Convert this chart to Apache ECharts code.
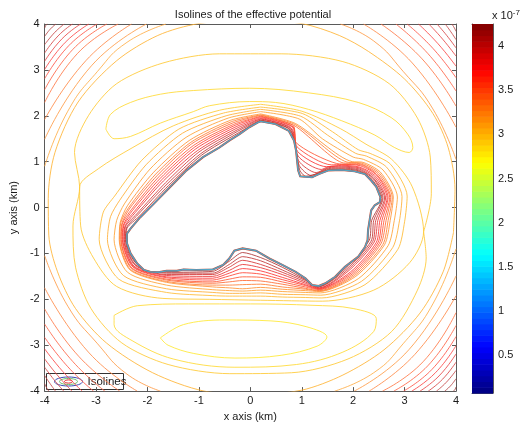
<!DOCTYPE html>
<html><head><meta charset="utf-8">
<script src="https://cdn.jsdelivr.net/npm/echarts@6/dist/echarts.min.js"></script>
<style>html,body{margin:0;padding:0;background:#fff}#c{width:520px;height:427px}</style>
</head><body><div id="c"></div>
<script>
// ---- axes / colorbar ----
const xTicks = [-4,-3,-2,-1,0,1,2,3,4];
const yTicks = [-4,-3,-2,-1,0,1,2,3,4];
const colorbarTicks = [0.5,1,1.5,2,2.5,3,3.5,4];
const cbMin = 0.07, cbMax = 4.25;

// ---- asteroid outline (km) ----
const asteroid = [[0.20,1.88],[0.49,1.82],[0.75,1.67],[0.85,1.46],[0.89,1.24],[0.91,1.02],[0.93,0.81],[0.97,0.68],[1.20,0.66],[1.33,0.73],[1.52,0.81],[1.78,0.82],[2.03,0.79],[2.23,0.73],[2.35,0.59],[2.45,0.45],[2.53,0.23],[2.52,0.12],[2.42,0.05],[2.35,-0.06],[2.32,-0.28],[2.29,-0.49],[2.28,-0.71],[2.23,-0.86],[2.10,-1.07],[1.84,-1.29],[1.65,-1.51],[1.46,-1.65],[1.33,-1.71],[1.20,-1.69],[1.07,-1.54],[0.88,-1.40],[0.62,-1.25],[0.37,-1.11],[0.11,-0.94],[-0.15,-0.89],[-0.31,-0.94],[-0.41,-1.11],[-0.53,-1.25],[-0.73,-1.35],[-1.05,-1.36],[-1.30,-1.35],[-1.43,-1.38],[-1.63,-1.38],[-1.79,-1.41],[-1.95,-1.40],[-2.07,-1.36],[-2.20,-1.22],[-2.33,-1.00],[-2.40,-0.78],[-2.40,-0.57],[-2.33,-0.46],[-2.14,-0.21],[-1.88,0.08],[-1.56,0.45],[-1.24,0.81],[-0.92,1.10],[-0.60,1.31],[-0.41,1.46],[-0.21,1.60],[-0.02,1.75],[0.14,1.85],[0.20,1.88]];

// ---- dense isolines hugging the body (inner -> outer) ----
const ringLevels = [4.15,4.05,3.95,3.85,3.75,3.65,3.55,3.45,3.35,3.25];
const rings = [
 [[0.2,1.90],[0.77,1.69],[0.96,0.82],[1.08,0.68],[1.33,0.75],[1.52,0.83],[1.78,0.84],[2.11,0.80],[2.37,0.61],[2.56,0.20],[2.36,-0.28],[2.31,-0.72],[1.86,-1.31],[1.33,-1.72],[1.07,-1.57],[0.62,-1.30],[0.20,-1.09],[-0.15,-0.98],[-0.41,-1.17],[-0.73,-1.39],[-1.63,-1.41],[-2.21,-1.23],[-2.42,-0.70],[-2.40,-0.45],[-2.16,-0.19],[-1.59,0.48],[-0.95,1.14],[-0.23,1.63],[0.2,1.90]],
 [[0.2,1.91],[0.78,1.70],[0.95,0.92],[1.18,0.70],[1.52,0.85],[1.78,0.86],[2.11,0.82],[2.39,0.63],[2.58,0.21],[2.40,-0.28],[2.35,-0.73],[1.88,-1.33],[1.33,-1.73],[1.07,-1.59],[0.62,-1.36],[0.20,-1.16],[-0.15,-1.07],[-0.41,-1.24],[-0.73,-1.43],[-1.63,-1.43],[-2.23,-1.25],[-2.43,-0.70],[-2.41,-0.44],[-2.19,-0.16],[-1.62,0.51],[-0.97,1.17],[-0.25,1.66],[0.2,1.91]],
 [[0.2,1.93],[0.79,1.72],[0.94,1.02],[1.28,0.76],[1.52,0.87],[1.78,0.88],[2.12,0.84],[2.40,0.64],[2.61,0.21],[2.44,-0.28],[2.38,-0.74],[1.90,-1.35],[1.34,-1.75],[1.07,-1.62],[0.62,-1.41],[0.20,-1.24],[-0.15,-1.15],[-0.41,-1.30],[-0.73,-1.46],[-1.63,-1.46],[-2.24,-1.26],[-2.45,-0.70],[-2.43,-0.42],[-2.21,-0.14],[-1.65,0.54],[-1.00,1.21],[-0.26,1.69],[0.2,1.93]],
 [[0.2,1.94],[0.80,1.73],[0.93,1.12],[1.38,0.83],[1.52,0.89],[1.78,0.90],[2.13,0.86],[2.42,0.66],[2.63,0.21],[2.48,-0.28],[2.41,-0.75],[1.92,-1.37],[1.34,-1.76],[1.07,-1.65],[0.62,-1.46],[0.20,-1.31],[-0.15,-1.24],[-0.41,-1.37],[-0.73,-1.50],[-1.63,-1.48],[-2.26,-1.28],[-2.46,-0.70],[-2.44,-0.41],[-2.24,-0.11],[-1.69,0.58],[-1.03,1.24],[-0.28,1.72],[0.2,1.94]],
 [[0.2,1.96],[0.82,1.75],[0.92,1.22],[1.48,0.89],[1.78,0.92],[2.13,0.88],[2.44,0.68],[2.66,0.21],[2.52,-0.28],[2.45,-0.76],[1.95,-1.40],[1.34,-1.77],[1.07,-1.68],[0.62,-1.52],[0.20,-1.38],[-0.15,-1.33],[-0.41,-1.43],[-0.73,-1.54],[-1.63,-1.51],[-2.27,-1.29],[-2.48,-0.70],[-2.46,-0.39],[-2.26,-0.09],[-1.72,0.61],[-1.06,1.28],[-0.30,1.75],[0.2,1.96]],
 [[0.2,1.98],[0.83,1.76],[0.91,1.32],[1.58,0.93],[1.78,0.94],[2.14,0.91],[2.46,0.70],[2.68,0.22],[2.56,-0.28],[2.48,-0.77],[1.97,-1.42],[1.34,-1.78],[1.07,-1.70],[0.62,-1.57],[0.20,-1.45],[-0.15,-1.42],[-0.41,-1.49],[-0.73,-1.58],[-1.63,-1.53],[-2.28,-1.30],[-2.49,-0.70],[-2.47,-0.38],[-2.29,-0.06],[-1.75,0.64],[-1.08,1.32],[-0.32,1.78],[0.2,1.98]],
 [[0.2,1.99],[0.84,1.78],[0.885,1.42],[1.68,0.96],[2.15,0.93],[2.47,0.71],[2.71,0.22],[2.60,-0.28],[2.51,-0.78],[1.99,-1.44],[1.35,-1.79],[1.07,-1.73],[0.62,-1.62],[0.20,-1.52],[-0.15,-1.51],[-0.41,-1.56],[-0.73,-1.62],[-1.63,-1.56],[-2.30,-1.32],[-2.51,-0.70],[-2.49,-0.36],[-2.31,-0.04],[-1.78,0.67],[-1.11,1.35],[-0.33,1.81],[0.2,1.99]],
 [[0.2,2.01],[0.85,1.79],[1.78,0.98],[2.15,0.95],[2.49,0.73],[2.73,0.22],[2.64,-0.28],[2.54,-0.79],[2.01,-1.46],[1.35,-1.81],[1.07,-1.76],[0.62,-1.67],[0.20,-1.60],[-0.15,-1.59],[-0.41,-1.62],[-0.73,-1.65],[-1.63,-1.58],[-2.31,-1.33],[-2.52,-0.70],[-2.50,-0.35],[-2.34,-0.01],[-1.81,0.70],[-1.14,1.39],[-0.35,1.84],[0.2,2.01]],
 [[0.2,2.02],[0.87,1.81],[1.88,0.99],[2.16,0.97],[2.51,0.75],[2.76,0.22],[2.68,-0.28],[2.58,-0.80],[2.03,-1.48],[1.35,-1.82],[1.07,-1.78],[0.62,-1.73],[0.20,-1.67],[-0.15,-1.68],[-0.41,-1.69],[-0.73,-1.69],[-1.63,-1.61],[-2.33,-1.35],[-2.54,-0.70],[-2.52,-0.33],[-2.36,0.01],[-1.84,0.73],[-1.16,1.42],[-0.37,1.87],[0.2,2.02]],
 [[0.2,2.04],[0.88,1.83],[1.98,1.00],[2.17,0.99],[2.53,0.77],[2.78,0.23],[2.72,-0.28],[2.61,-0.81],[2.05,-1.50],[1.35,-1.83],[1.07,-1.81],[0.62,-1.78],[0.20,-1.74],[-0.15,-1.77],[-0.41,-1.75],[-0.73,-1.73],[-1.63,-1.63],[-2.34,-1.36],[-2.55,-0.70],[-2.53,-0.32],[-2.39,0.04],[-1.88,0.77],[-1.19,1.46],[-0.39,1.90],[0.2,2.04]]
];
const orangeLevels = [3.17,3.10,3.03];
const orangeRings = [
 [[0.2,2.09],[0.95,1.93],[1.4,1.5],[2.0,1.1],[2.2,1.05],[2.58,0.82],[2.86,0.23],[2.8,-0.28],[2.68,-0.83],[2.10,-1.55],[1.36,-1.86],[1.07,-1.85],[0.62,-1.83],[0.2,-1.80],[-0.15,-1.82],[-0.41,-1.81],[-0.73,-1.79],[-1.63,-1.69],[-2.39,-1.41],[-2.65,-0.70],[-2.6,-0.28],[-2.45,0.08],[-1.95,0.84],[-1.25,1.53],[-0.43,1.95],[0.2,2.09]],
 [[0.2,2.14],[0.98,1.99],[1.5,1.58],[2.05,1.18],[2.26,1.12],[2.65,0.88],[2.95,0.24],[2.9,-0.29],[2.77,-0.87],[2.16,-1.61],[1.37,-1.91],[1.07,-1.9],[0.62,-1.89],[0.2,-1.86],[-0.15,-1.87],[-0.41,-1.87],[-0.73,-1.85],[-1.63,-1.77],[-2.47,-1.48],[-2.78,-0.70],[-2.72,-0.2],[-2.54,0.16],[-2.03,0.93],[-1.32,1.62],[-0.47,2.0],[0.2,2.14]],
 [[0.2,2.19],[1.01,2.05],[1.6,1.65],[2.1,1.26],[2.33,1.18],[2.73,0.94],[3.05,0.25],[3.0,-0.31],[2.87,-0.91],[2.23,-1.68],[1.39,-1.97],[1.07,-1.96],[0.62,-1.95],[0.2,-1.93],[-0.15,-1.93],[-0.41,-1.93],[-0.73,-1.92],[-1.63,-1.85],[-2.56,-1.56],[-2.94,-0.70],[-2.86,-0.1],[-2.64,0.25],[-2.12,1.02],[-1.39,1.71],[-0.52,2.06],[0.2,2.19]]
];

// ---- low-level isolines: equilibrium wells, separatrix, outer ring ----
const wellLevels = [2.88, 2.80, 2.88];
const topBanana = [[-2.81,1.71],[-2.72,2.03],[-2.33,2.29],[-1.75,2.47],[-1.11,2.55],[-0.02,2.60],[1.13,2.50],[2.10,2.29],[2.74,1.96],[3.06,1.60],[3.16,1.31],[3.09,1.20],[2.80,1.31],[2.42,1.58],[1.78,1.89],[1.13,2.14],[0.49,2.29],[-0.02,2.31],[-0.79,2.22],[-1.11,2.09],[-1.75,1.84],[-2.33,1.55],[-2.65,1.50],[-2.81,1.71]];
const bottomInner = [[-1.75,-2.84],[-1.3,-2.55],[-0.5,-2.45],[0.4,-2.47],[1.1,-2.6],[1.49,-2.82],[1.3,-3.02],[0.6,-3.22],[-0.3,-3.28],[-1.1,-3.18],[-1.6,-3.0],[-1.75,-2.84]];
const bottomOuter = [[-2.65,-2.35],[-2.2,-2.14],[-1.2,-2.1],[0,-2.1],[1.2,-2.13],[2.0,-2.2],[2.45,-2.42],[2.4,-2.7],[1.8,-3.15],[0.9,-3.42],[-0.3,-3.48],[-1.5,-3.3],[-2.3,-2.9],[-2.65,-2.55],[-2.65,-2.35]];
const sepLevel = 2.96;
const sepInner = [[0.2,2.25],[1.0,2.1],[1.75,1.72],[2.25,1.38],[2.75,1.05],[3.15,0.45],[3.37,-0.53],[3.1,-1.2],[2.4,-1.8],[1.4,-2.04],[0.2,-2.02],[-0.8,-2.0],[-1.7,-1.98],[-2.6,-1.72],[-3.05,-1.1],[-3.3,-0.4],[-3.32,0.45],[-2.95,0.85],[-2.3,1.3],[-1.5,1.78],[-0.6,2.12],[0.2,2.25]];
const sepOuter = [[3.37,-0.53],[3.52,0.3],[3.5,1.1],[3.25,1.95],[2.7,2.7],[1.8,3.18],[0.6,3.35],[-0.6,3.35],[-1.7,3.15],[-2.6,2.7],[-3.15,2.0],[-3.42,1.2],[-3.32,0.45],[-3.45,-0.4],[-3.4,-1.3],[-3.1,-2.2],[-2.5,-2.95],[-1.6,-3.42],[-0.4,-3.62],[0.8,-3.6],[1.9,-3.3],[2.75,-2.7],[3.25,-1.8],[3.42,-1.1],[3.37,-0.53]];
const domeLevel = 3.07;
const dome = [[3.95,-0.55],[3.98,0.4],[3.85,1.3],[3.55,2.05],[3.0,2.8],[2.3,3.4],[1.73,3.75],[1.0,4.01],[0.1,4.09],[-1.0,4.01],[-1.8,3.75],[-2.6,3.2],[-3.35,2.3],[-3.8,1.2],[-3.93,0.2],[-3.92,-0.6],[-3.75,-1.4],[-3.4,-2.2],[-2.8,-2.95],[-1.9,-3.6],[-0.9,-4.0],[0.1,-4.07],[1.0,-3.98],[1.8,-3.65],[2.6,-3.1],[3.3,-2.3],[3.75,-1.4],[3.95,-0.55]];

// ---- corner isolines (outer -> inner) ----
const cornerLevelsA = [4.25,4.15,4.05,3.95,3.85,3.75,3.65,3.55,3.45,3.35,3.25,3.15];
const cornerTL = [
 [[-3.95,4],[-3.975,3.975],[-4,3.91]],[[-3.78,4],[-3.89,3.89],[-4,3.73]],[[-3.62,4],[-3.81,3.81],[-4,3.55]],[[-3.46,4],[-3.74,3.74],[-4,3.37]],[[-3.30,4],[-3.67,3.67],[-4,3.19]],[[-3.14,4],[-3.60,3.60],[-4,3.01]],[[-2.98,4],[-3.53,3.53],[-4,2.81]],[[-2.79,4],[-3.45,3.45],[-4,2.57]],[[-2.57,4],[-3.36,3.36],[-4,2.29]],[[-2.31,4],[-3.2,3.2],[-4,1.92]],[[-2.02,4],[-3.09,3.09],[-4,1.49]],
 [[-1.64,4],[-2.4,3.6],[-2.97,2.97],[-3.55,2.1],[-4,0.9]]];
const cornerBR = [
 [[3.95,-4],[3.975,-3.975],[4,-3.91]],[[3.78,-4],[3.89,-3.89],[4,-3.73]],[[3.62,-4],[3.81,-3.81],[4,-3.55]],[[3.46,-4],[3.74,-3.74],[4,-3.37]],[[3.30,-4],[3.67,-3.67],[4,-3.19]],[[3.14,-4],[3.60,-3.60],[4,-3.01]],[[2.98,-4],[3.53,-3.53],[4,-2.81]],[[2.79,-4],[3.45,-3.45],[4,-2.57]],[[2.57,-4],[3.36,-3.36],[4,-2.29]],[[2.31,-4],[3.2,-3.2],[4,-1.92]],[[2.02,-4],[3.09,-3.09],[4,-1.49]],
 [[1.64,-4],[2.4,-3.6],[2.97,-2.97],[3.55,-2.1],[4,-0.9]]];
const cornerLevelsB = [4.15,4.05,3.95,3.85,3.75,3.65,3.55,3.45,3.35,3.25];
const cornerTR = [
 [[3.92,4],[3.97,3.91],[4,3.84]],[[3.79,4],[3.9,3.83],[4,3.66]],[[3.63,4],[3.82,3.75],[4,3.48]],[[3.47,4],[3.74,3.67],[4,3.30]],[[3.27,4],[3.65,3.57],[4,3.08]],[[3.05,4],[3.55,3.47],[4,2.83]],[[2.83,4],[3.45,3.36],[4,2.54]],[[2.54,4],[3.34,3.24],[4,2.21]],[[2.2,4],[3.15,3.15],[4,1.75]],
 [[1.75,4],[2.4,3.63],[2.97,2.97],[3.55,2.15],[4,1.05]]];
const cornerBL = [
 [[-3.92,-4],[-3.97,-3.91],[-4,-3.84]],[[-3.79,-4],[-3.9,-3.83],[-4,-3.66]],[[-3.63,-4],[-3.82,-3.75],[-4,-3.48]],[[-3.47,-4],[-3.74,-3.67],[-4,-3.30]],[[-3.27,-4],[-3.65,-3.57],[-4,-3.08]],[[-3.05,-4],[-3.55,-3.47],[-4,-2.83]],[[-2.83,-4],[-3.45,-3.36],[-4,-2.54]],[[-2.54,-4],[-3.34,-3.24],[-4,-2.21]],[[-2.2,-4],[-3.15,-3.15],[-4,-1.75]],
 [[-1.75,-4],[-2.4,-3.63],[-2.97,-2.97],[-3.55,-2.15],[-4,-1.05]]];

// ---- colour map (MATLAB jet) ----
function jet(v){
  const t = Math.max(0, Math.min(1, (v - cbMin) / (cbMax - cbMin)));
  const c = x => Math.round(255 * Math.max(0, Math.min(1, x)));
  return [c(1.5 - Math.abs(4*t - 3)), c(1.5 - Math.abs(4*t - 2)), c(1.5 - Math.abs(4*t - 1))];
}
function lineColor(v, k){
  const [r,g,b] = jet(v);
  const m = a => Math.round(a*(1-k) + 255*k);
  return 'rgb(' + m(r) + ',' + m(g) + ',' + m(b) + ')';
}

const series = [];
function addLine(pts, level, smooth, blend){
  series.push({type:'line', xAxisIndex:0, yAxisIndex:0, data:pts, smooth:smooth, showSymbol:false, symbol:'none',
    silent:true, animation:false, clip:true, z:2,
    lineStyle:{width:0.85, color:lineColor(level, blend)}});
}
addLine(topBanana, wellLevels[0], 0.35, 0.2);
addLine(bottomInner, wellLevels[1], 0.35, 0.2);
addLine(bottomOuter, wellLevels[2], 0.35, 0.2);
addLine(sepInner, sepLevel, 0.3, 0.2);
addLine(sepOuter, sepLevel, 0.3, 0.2);
addLine(dome, domeLevel, 0.3, 0.2);
orangeRings.forEach((p,i)=>addLine(p, orangeLevels[i], 0.25, 0.2));
rings.forEach((p,i)=>addLine(p, ringLevels[i], 0.25, 0.2));
cornerTL.forEach((p,i)=>addLine(p, cornerLevelsA[i], true, 0.28));
cornerBR.forEach((p,i)=>addLine(p, cornerLevelsA[i], true, 0.28));
cornerTR.forEach((p,i)=>addLine(p, cornerLevelsB[i], true, 0.28));
cornerBL.forEach((p,i)=>addLine(p, cornerLevelsB[i], true, 0.28));

// asteroid body: white interior, low-level isolines collapsed on the surface
series.push({type:'custom', xAxisIndex:0, yAxisIndex:0, data:[0], silent:true, animation:false, z:5,
  renderItem:(params, api)=>{
    const pts = asteroid.map(p => api.coord(p));
    return {type:'group', children:[
      {type:'polygon', shape:{points:pts}, style:{fill:'#ffffff', stroke:'none'}},
      {type:'polyline', shape:{points:pts}, style:{fill:'none', stroke:'#cc5030', lineWidth:2.1}},
      {type:'polyline', shape:{points:pts}, style:{fill:'none', stroke:'#4b8fcf', lineWidth:1.3}},
      {type:'polyline', shape:{points:pts}, style:{fill:'none', stroke:'#5cc4b4', lineWidth:0.5}}
    ]};
  }});

// colorbar bands
const nBands = 64;
const bands = [];
for (let i=0;i<nBands;i++){
  const lo = cbMin + (cbMax-cbMin)*i/nBands, hi = cbMin + (cbMax-cbMin)*(i+1)/nBands;
  bands.push([lo, hi, (lo+hi)/2]);
}
series.push({type:'custom', xAxisIndex:2, yAxisIndex:2, data:bands, silent:true, animation:false,
  renderItem:(params, api)=>{
    const p1 = api.coord([0, api.value(1)]);
    const p2 = api.coord([1, api.value(0)]);
    const [r,g,b] = jet(api.value(2));
    return {type:'rect', shape:{x:p1[0], y:p1[1], width:p2[0]-p1[0], height:p2[1]-p1[1]+0.6},
      style:{fill:'rgb('+r+','+g+','+b+')'}};
  }});

const axisCol = '#5a5a5a';
const lab = {fontFamily:'Liberation Sans, Arial, sans-serif', fontSize:11, color:'#1a1a1a'};
const baseAxis = {axisLine:{show:true, onZero:false, lineStyle:{color:axisCol, width:1}},
  axisTick:{show:true, inside:true, length:4, lineStyle:{color:axisCol}}, splitLine:{show:false}};

const option = {
  animation:false,
  backgroundColor:'#fff',
  title:{text:'Isolines of the effective potential', left:248, top:4, textAlign:'center',
    textStyle:{fontFamily:'Liberation Sans, Arial, sans-serif', fontSize:11, fontWeight:'normal', color:'#1a1a1a'}},
  grid:[{left:40, top:24, width:416, height:369},{left:472, top:24, width:21, height:369}],
  xAxis:[
    Object.assign({type:'value', gridIndex:0, min:-4, max:4, interval:1, position:'bottom',
      name:'x axis (km)', nameLocation:'middle', nameGap:17, nameTextStyle:lab,
      axisLabel:Object.assign({margin:4, customValues:xTicks}, lab)}, baseAxis),
    Object.assign({type:'value', gridIndex:0, min:-4, max:4, interval:1, position:'top', axisLabel:{show:false}}, baseAxis),
    {type:'value', gridIndex:1, min:0, max:1, position:'bottom', axisLabel:{show:false}, axisTick:{show:false}, splitLine:{show:false}, axisLine:{show:true, lineStyle:{color:axisCol}}},
    {type:'value', gridIndex:1, min:0, max:1, position:'top', axisLabel:{show:false}, axisTick:{show:false}, splitLine:{show:false}, axisLine:{show:true, lineStyle:{color:axisCol}}}
  ],
  yAxis:[
    Object.assign({type:'value', gridIndex:0, min:-4, max:4, interval:1, position:'left',
      name:'y axis (km)', nameLocation:'middle', nameGap:22, nameTextStyle:lab,
      axisLabel:Object.assign({margin:5, customValues:yTicks}, lab)}, baseAxis),
    Object.assign({type:'value', gridIndex:0, min:-4, max:4, interval:1, position:'right', axisLabel:{show:false}}, baseAxis),
    {type:'value', gridIndex:1, min:cbMin, max:cbMax, position:'right',
      axisLine:{show:true, onZero:false, lineStyle:{color:axisCol}},
      axisTick:{show:true, inside:true, length:3, customValues:colorbarTicks, lineStyle:{color:axisCol}},
      axisLabel:Object.assign({margin:5, customValues:colorbarTicks, formatter:v=>String(v)}, lab), splitLine:{show:false}},
    {type:'value', gridIndex:1, min:cbMin, max:cbMax, position:'left',
      axisLine:{show:true, onZero:false, lineStyle:{color:axisCol}},
      axisTick:{show:true, inside:true, length:3, customValues:colorbarTicks, lineStyle:{color:axisCol}},
      axisLabel:{show:false}, splitLine:{show:false}}
  ],
  series:series,
  graphic:[
    {type:'text', left:492, top:9, style:{text:'{a|x 10}{s|-7}', rich:{a:{fontSize:11, fontFamily:'Liberation Sans, Arial', fill:'#1a1a1a'}, s:{fontSize:8, fontFamily:'Liberation Sans, Arial', fill:'#1a1a1a', verticalAlign:'top', padding:[0,0,6,0]}}}},
    {type:'group', left:46, top:373, z:10, children:[
      {type:'rect', shape:{x:0, y:0, width:77, height:16}, style:{fill:'#fff', stroke:'#333', lineWidth:1}},
      {type:'ellipse', shape:{cx:22, cy:8, rx:14, ry:4.5}, style:{fill:'none', stroke:'#3c4cb4', lineWidth:1}},
      {type:'ellipse', shape:{cx:22, cy:8, rx:9, ry:3}, style:{fill:'none', stroke:'#6cc06c', lineWidth:1}},
      {type:'ellipse', shape:{cx:22, cy:8, rx:4, ry:1.6}, style:{fill:'none', stroke:'#e03030', lineWidth:1}},
      {type:'text', x:41, y:8, style:{text:'Isolines', fontSize:11.5, fontFamily:'Liberation Sans, Arial', fill:'#1a1a1a', verticalAlign:'middle'}}
    ]}
  ]
};
const chart = echarts.init(document.getElementById('c'), null, {renderer:'canvas'});
chart.setOption(option);
</script></body></html>
